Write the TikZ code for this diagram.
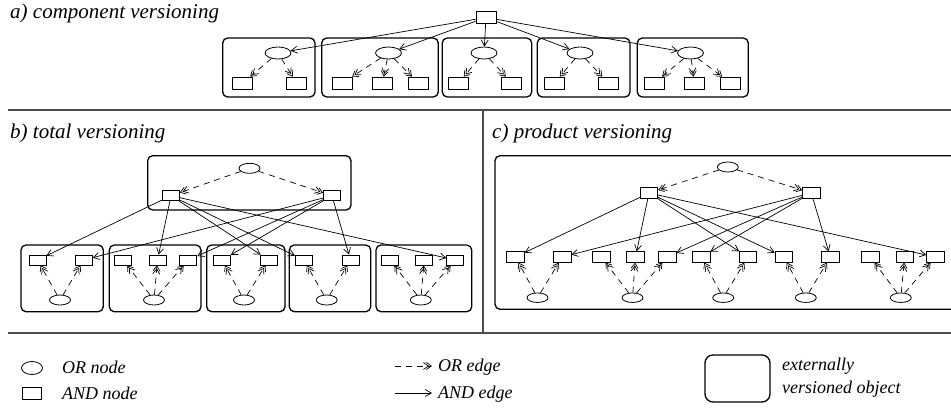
\documentclass[tikz,border=0pt]{standalone}
\usepackage{fontspec}
\setmainfont{Liberation Serif}
\usetikzlibrary{arrows.meta,shapes.geometric}
\tikzset{>={Straight Barb[length=6pt,width=7pt]}}
\tikzset{
  ornode/.style={draw,ellipse,line width=0.8pt,inner sep=0pt,minimum width=21pt,minimum height=10pt},
  andnode/.style={draw,rectangle,line width=0.8pt,inner sep=0pt,minimum width=17pt,minimum height=10pt},
  evobox/.style={draw,line width=1.3pt,rounded corners=5pt},
  oredge/.style={line width=0.7pt,dash pattern=on 6pt off 5pt,
    -{Straight Barb[length=5pt,width=7pt,sep=-3pt]Straight Barb[length=5pt,width=7pt]}},
  andedge/.style={line width=0.7pt,->},
  divider/.style={draw=black!70,line width=1.2pt},
  title/.style={font=\fontsize{21}{25}\selectfont\itshape,anchor=base west,inner sep=0pt},
  legendtext/.style={font=\fontsize{18}{21}\selectfont\itshape,anchor=base west,inner sep=0pt},
}

\begin{document}
\begin{tikzpicture}[x=1pt,y=-1pt]
  \clip (0,0) rectangle (951,413);
  % panel frames
  \draw[divider] (8,110) -- (951,110);
  \draw[divider] (8,333) -- (951,333);
  \draw[divider] (483,110) -- (483,333);
  \node[title] (ta) at (10,18) {a) component versioning};
  \node[title] (tb) at (10,138) {b) total versioning};
  \node[title] (tc) at (492,138) {c) product versioning};

  % a) component versioning
  \foreach \xl/\xr in {222.7/315,321.7/438.3,442.3/531.7,537.3/630,637.3/748.3}
    \draw[evobox] (\xl,38) rectangle (\xr,97);
  \node[andnode,minimum width=20pt,minimum height=11.5pt] (a0) at (486,17.5) {};
  \foreach \n/\x in {1/278,2/388.5,3/484,4/580,5/690.5} {
    \node[ornode,minimum width=26pt,minimum height=12pt] (ao\n) at (\x,53) {};
    \draw[andedge] (a0) -- (ao\n);
  }
  \foreach \n/\x/\p in {1/242.7/1,2/296.7/1,3/342.3/2,4/382.3/2,5/418.3/2,6/458.3/3,
                        7/511.7/3,8/554.3/4,9/608.3/4,10/654.3/5,11/694.3/5,12/730.7/5} {
    \node[andnode,minimum width=20pt,minimum height=12pt] (aa\n) at (\x,83) {};
    \draw[oredge] (ao\p) -- (aa\n);
  }

  % b) total versioning
  \draw[evobox] (147.7,155.7) rectangle (351,210);
  \foreach \xl/\xr in {21/103.3,109.3/201,206.7/285,289.3/370.7,376/471.7}
    \draw[evobox] (\xl,245) rectangle (\xr,311.7);
  \node[ornode] (bt) at (249.5,168.3) {};
  \node[andnode] (bl) at (171,195.7) {};
  \node[andnode] (br) at (332,195.7) {};
  \draw[oredge] (bt) -- (bl);
  \draw[oredge] (bt) -- (br);
  \foreach \n/\x in {1/60,2/154,3/244,4/326.7,5/420.8}
    \node[ornode] (bo\n) at (\x,300) {};
  \foreach \n/\x/\p in {1/37.5/1,2/83.7/1,3/123/2,4/157.5/2,5/188.3/2,6/222/3,
                        7/268.8/3,8/303.8/4,9/350.5/4,10/390.3/5,11/424.2/5,12/455.3/5} {
    \node[andnode] (ba\n) at (\x,260) {};
    \draw[oredge] (bo\p) -- (ba\n);
  }
  \foreach \n in {1,4,7,8,12} \draw[andedge] (bl) -- (ba\n);
  \foreach \n in {2,5,6,9} \draw[andedge] (br) -- (ba\n);

  % c) product versioning
  \draw[evobox] (495,155.7) rectangle (975,309.3);
  \node[ornode] (ct) at (727.8,167) {};
  \node[andnode,minimum width=17.5pt,minimum height=10.5pt] (cl) at (649,193) {};
  \node[andnode,minimum width=17.5pt,minimum height=10.5pt] (cr) at (811.3,193) {};
  \draw[oredge] (ct) -- (cl);
  \draw[oredge] (ct) -- (cr);
  \foreach \n/\x in {1/537.5,2/632.5,3/723.2,4/805.8,5/900.8}
    \node[ornode,minimum height=9.5pt] (co\n) at (\x,297.7) {};
  \foreach \n/\x/\p in {1/515.5/1,2/562.2/1,3/601.2/2,4/635.5/2,5/667.2/2,6/701.2/3,
                        7/747.8/3,8/783.8/4,9/830.3/4,10/870.3/5,11/904.7/5,12/935.3/5} {
    \node[andnode,minimum width=17.5pt,minimum height=10.5pt] (ca\n) at (\x,257) {};
    \draw[oredge] (co\p) -- (ca\n);
  }
  \foreach \n in {1,4,7,8,12} \draw[andedge] (cl) -- (ca\n);
  \foreach \n in {2,5,6,9} \draw[andedge] (cr) -- (ca\n);

  % legend
  \node[ornode,minimum width=21pt,minimum height=13pt] (lor) at (32,368) {};
  \node[legendtext] (lort) at (62,373) {OR node};
  \node[andnode,minimum width=19pt,minimum height=12pt] (land) at (31.5,393) {};
  \node[legendtext] (landt) at (62,399) {AND node};
  \coordinate (loe1) at (395,366);
  \coordinate (loe2) at (432,366);
  \draw[oredge] (loe1) -- (loe2);
  \node[legendtext] (loet) at (438,371) {OR edge};
  \coordinate (lae1) at (395,393);
  \coordinate (lae2) at (432,393);
  \draw[andedge] (lae1) -- (lae2);
  \node[legendtext] (laet) at (438,398) {AND edge};
  \draw[evobox,rounded corners=8pt] (705,355) rectangle (770,402);
  \node[legendtext] (lext) at (782,370) {externally};
  \node[legendtext] (lver) at (782,393) {versioned object};
\end{tikzpicture}
\end{document}
